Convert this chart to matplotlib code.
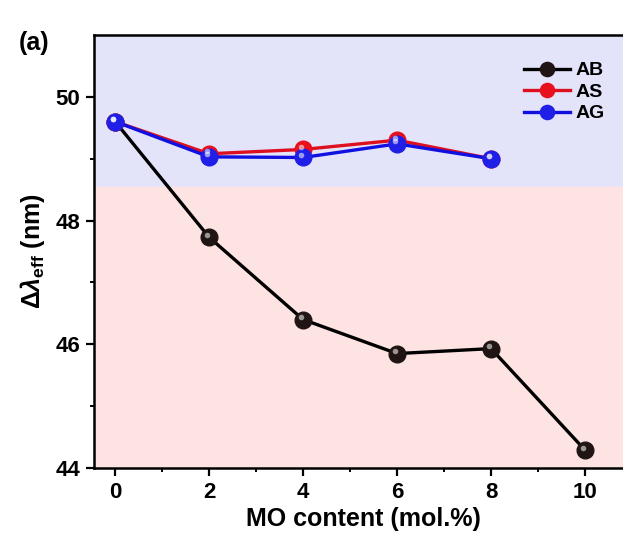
import numpy as np
import matplotlib.pyplot as plt

plt.rcParams['font.family'] = ['Liberation Sans', 'DejaVu Sans']
plt.rcParams['font.weight'] = 'bold'
plt.rcParams['mathtext.fontset'] = 'custom'
plt.rcParams['mathtext.rm'] = 'Liberation Sans:bold'
plt.rcParams['mathtext.it'] = 'Liberation Sans:bold:italic'
plt.rcParams['mathtext.bf'] = 'Liberation Sans:bold'

# MO content (mol.%) and delta lambda_eff (nm) per glass series
x_ab = [0, 2, 4, 6, 8, 10]
ab = [49.6, 47.73, 46.4, 45.85, 45.93, 44.29]
x_as = [0, 2, 4, 6, 8]
as_ = [49.6, 49.08, 49.15, 49.3, 49.0]
x_ag = [0, 2, 4, 6, 8]
ag = [49.6, 49.03, 49.02, 49.24, 49.0]

# shaded bands
band_split = 48.55

fig = plt.figure(figsize=(6.23, 5.43), dpi=100)
ax = fig.add_axes([94/623, 75/543, 538/623, 433/543])

ax.set_xlim(-0.45, 11.0)
ax.set_ylim(44, 51)
ax.axhspan(band_split, 51, color='#e3e3fa', zorder=0)
ax.axhspan(44, band_split, color='#fde3e2', zorder=0)

series = [
    (x_ab, ab, 'AB', '#000000', '#201414'),
    (x_as, as_, 'AS', '#dd1020', '#e8101c'),
    (x_ag, ag, 'AG', '#1010e0', '#1f1fe8'),
]
for xs, ys, lab, lc, mc in series:
    ax.plot(xs, ys, '-', color=lc, lw=2.4, marker='o', ms=12,
            mfc=mc, mec=mc, label=lab, zorder=3)
    # little gloss spot on each ball
    ax.plot(np.array(xs) - 0.05, np.array(ys) + 0.04, 'o', ms=4,
            color='white', alpha=0.55, mec='none', zorder=4)

ax.set_xticks([0, 2, 4, 6, 8, 10])
ax.set_xticks([1, 3, 5, 7, 9], minor=True)
ax.set_yticks([44, 46, 48, 50])
ax.set_yticks([45, 47, 49], minor=True)
ax.tick_params(which='major', direction='out', length=6, width=1.6,
               labelsize=16, pad=4)
ax.tick_params(which='minor', direction='out', length=3, width=1.4)
for s in ax.spines.values():
    s.set_linewidth(1.8)

ax.set_xlabel('MO content (mol.%)', fontsize=18, fontweight='bold', labelpad=3)
ax.set_ylabel(r'$\Delta\lambda_{\mathrm{eff}}$ (nm)', fontsize=18,
              fontweight='bold', labelpad=6)

fig.text(19/623, 1 - 50/543, '(a)', fontsize=18, fontweight='bold')

fig.legend(loc='upper left', bbox_to_anchor=(514/623, 1 - 52/543),
           frameon=False, fontsize=14, handlelength=2.4, handletextpad=0.25,
           labelspacing=0.2, borderpad=0, markerscale=0.85)

fig.savefig('out.png', dpi=100)
